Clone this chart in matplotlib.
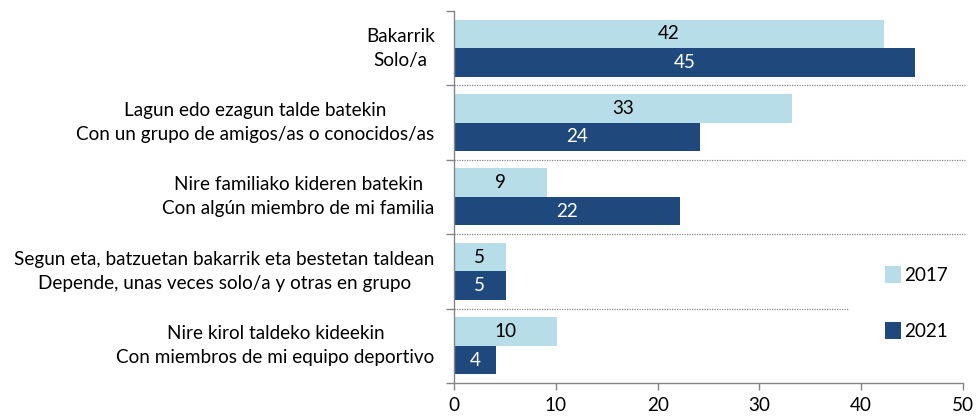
import matplotlib.pyplot as plt
import numpy as np

# categories, top to bottom (Basque \n Spanish)
categories = [
    "Bakarrik\nSolo/a",
    "Lagun edo ezagun talde batekin\nCon un grupo de amigos/as o conocidos/as",
    "Nire familiako kideren batekin\nCon algún miembro de mi familia",
    "Segun eta, batzuetan bakarrik eta bestetan taldean\nDepende, unas veces solo/a y otras en grupo",
    "Nire kirol taldeko kideekin\nCon miembros de mi equipo deportivo",
]
vals_2017 = [42.2, 33.2, 9.1, 5.1, 10.1]
vals_2021 = [45.3, 24.2, 22.2, 5.1, 4.1]
series_names = ["2017", "2021"]
xticks = [0, 10, 20, 30, 40, 50]

c17 = "#b6dde8"
c21 = "#1f497d"
grey = "#868686"
fs = 13.6

plt.rcParams['font.family'] = ['Lato', 'DejaVu Sans']

fig = plt.figure(figsize=(9.79, 4.16), dpi=100)
ax = fig.add_axes([0.4637, 0.0793, 0.5200, 0.8943])

n = len(categories)
centers = np.arange(n)
h = 0.383
b1 = ax.barh(centers - h / 2, vals_2017, height=h, color=c17, label=series_names[0])
b2 = ax.barh(centers + h / 2, vals_2021, height=h, color=c21, label=series_names[1])

for bar, v in zip(b1, vals_2017):
    ax.text(bar.get_width() / 2, bar.get_y() + bar.get_height() / 2, str(round(v)),
            ha='center', va='center', fontsize=fs, color='black')
for bar, v in zip(b2, vals_2021):
    ax.text(bar.get_width() / 2, bar.get_y() + bar.get_height() / 2, str(round(v)),
            ha='center', va='center', fontsize=fs, color='white')

ax.set_xlim(0, 50)
ax.set_ylim(n - 0.5, -0.5)

# dotted separators between groups
for i in range(n - 1):
    xend = 50.2 if i < n - 2 else 38.7
    ax.plot([0, xend], [i + 0.5, i + 0.5], ls=(0, (1, 1)), lw=0.9, color=grey,
            clip_on=False)

# category labels
for i, lab in enumerate(categories):
    ax.text(-1.9, i, lab, ha='right', va='center', multialignment='center',
            fontsize=fs, linespacing=1.5)

ax.set_yticks(np.arange(n + 1) - 0.5)
ax.set_yticklabels([])
ax.set_xticks(xticks)
ax.tick_params(axis='y', length=6, color=grey, width=1)
ax.tick_params(axis='x', length=5, color=grey, width=1, labelsize=fs, pad=5)

for s in ['top', 'right']:
    ax.spines[s].set_visible(False)
for s in ['left', 'bottom']:
    ax.spines[s].set_color(grey)
    ax.spines[s].set_linewidth(1)

ax.legend(loc='upper left', bbox_to_anchor=(0.829, 0.34), frameon=False,
          fontsize=fs, handlelength=0.85, handleheight=1.05, handletextpad=0.15,
          labelspacing=2.0, borderpad=0)

plt.savefig('out.png', dpi=100)
